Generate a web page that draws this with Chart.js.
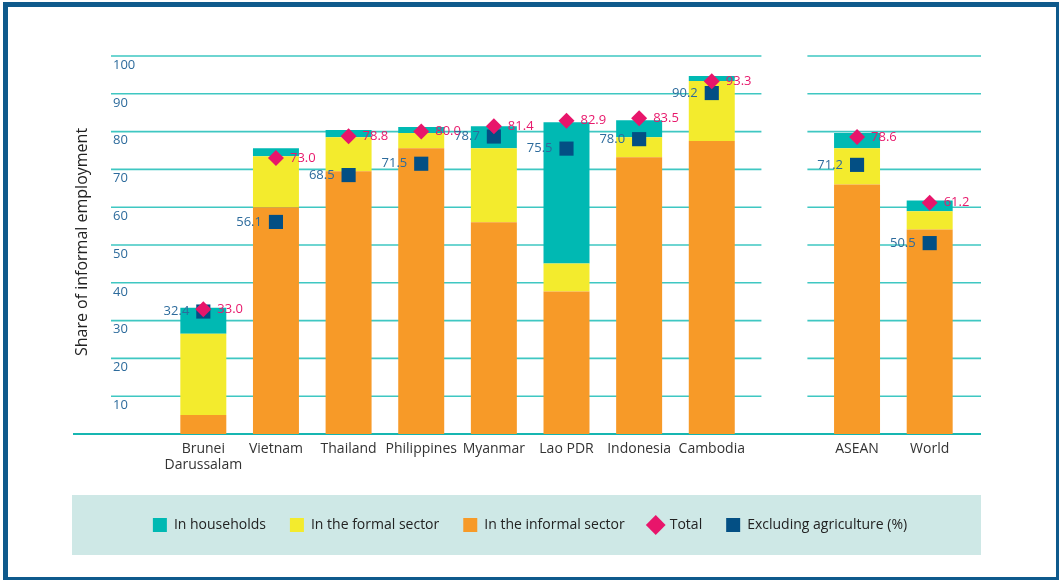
<!DOCTYPE html>
<html>
<head>
<meta charset="utf-8">
<script src="https://cdn.jsdelivr.net/npm/chart.js@4.4.1/dist/chart.umd.min.js"></script>
<style>
  html, body { margin: 0; padding: 0; background: #fff; }
  #wrap { position: relative; width: 1059px; height: 580px; overflow: hidden; }
  #frame { position: absolute; left: 3px; top: 2px; width: 1058px; height: 580px; box-sizing: border-box; border: 5px solid #0f5a8c; pointer-events: none; }
</style>
</head>
<body>
<div id="wrap">
  <canvas id="myChart" width="1059" height="580"></canvas>
  <div id="frame"></div>
</div>
<script>
// categories ('' is the spacer between the countries and the aggregates)
const countries = [['Brunei', 'Darussalam'], 'Vietnam', 'Thailand', 'Philippines', 'Myanmar', 'Lao PDR', 'Indonesia', 'Cambodia', '', 'ASEAN', 'World'];

// stacked components (share of employment, %)
const informalSector = [5.0, 60.0, 69.5, 75.6, 56.0, 37.7, 73.2, 77.5, null, 66.0, 54.1];
const formalSector   = [21.5, 13.5, 9.0, 4.0, 19.6, 7.4, 5.3, 15.9, null, 9.6, 4.8];
const households     = [6.9, 2.1, 1.9, 1.6, 5.8, 37.4, 4.5, 1.3, null, 4.0, 2.9];

// markers
const total        = [33.0, 73.0, 78.8, 80.0, 81.4, 82.9, 83.5, 93.3, null, 78.6, 61.2];
const excludingAgr = [32.4, 56.1, 68.5, 71.5, 78.7, 75.5, 78.0, 90.2, null, 71.2, 50.5];

const yTicks = [10, 20, 30, 40, 50, 60, 70, 80, 90, 100];
const yTitle = 'Share of informal employment';

const legendOrder = [2, 1, 0, 3, 4];
const spacerIndex = countries.indexOf('');

Chart.defaults.font.family = "'Open Sans', sans-serif";

const decor = {
    id: 'decor',
    beforeDraw(chart) {
        const {ctx, chartArea: a, legend} = chart;
        const cy = legend.top + legend.options.labels.padding + 7;
        ctx.save();
        ctx.fillStyle = '#cee8e6';
        ctx.fillRect(a.left - 95, cy - 30, (a.right + 15) - (a.left - 95), 60);
        ctx.restore();
    },
    beforeDatasetsDraw(chart) {
        const {ctx, chartArea: a, scales: {x, y}} = chart;
        const barW = chart.getDatasetMeta(0).data[0].width;
        const gapL = x.getPixelForValue(spacerIndex) - barW / 2;
        const gapR = x.getPixelForValue(spacerIndex) + barW / 2;
        const left = a.left - 56, right = a.right + 15;
        ctx.save();
        ctx.strokeStyle = '#3fc7c2';
        ctx.lineWidth = 1.6;
        yTicks.forEach(v => {
            const py = y.getPixelForValue(v);
            ctx.beginPath();
            ctx.moveTo(left, py); ctx.lineTo(gapL, py);
            ctx.moveTo(gapR, py); ctx.lineTo(right, py);
            ctx.stroke();
        });
        // baseline
        const y0 = y.getPixelForValue(0);
        ctx.strokeStyle = '#17b6b1';
        ctx.lineWidth = 2.2;
        ctx.beginPath();
        ctx.moveTo(a.left - 94, y0); ctx.lineTo(right, y0);
        ctx.stroke();
        // tick labels, sitting just under each grid line
        ctx.fillStyle = '#2d6b9c';
        ctx.font = "13px 'Open Sans', sans-serif";
        ctx.textAlign = 'left';
        ctx.textBaseline = 'middle';
        yTicks.forEach(v => {
            ctx.fillText(String(v), left + 2, y.getPixelForValue(v) + 9);
        });
        // axis title
        ctx.translate(82, (a.top + a.bottom) / 2 - 3);
        ctx.rotate(-Math.PI / 2);
        ctx.fillStyle = '#222';
        ctx.font = "16px 'Open Sans', sans-serif";
        ctx.textAlign = 'center';
        ctx.fillText(yTitle, 0, 0);
        ctx.restore();
    },
    afterDatasetsDraw(chart) {
        const {ctx} = chart;
        ctx.save();
        ctx.font = "13px 'Open Sans', sans-serif";
        ctx.textBaseline = 'middle';
        ctx.textAlign = 'left';
        ctx.fillStyle = '#e8196c';
        chart.getDatasetMeta(3).data.forEach((pt, i) => {
            if (total[i] == null) return;
            ctx.fillText(total[i].toFixed(1), pt.x + 14, pt.y);
        });
        ctx.textAlign = 'right';
        ctx.fillStyle = '#2d6b9c';
        chart.getDatasetMeta(4).data.forEach((pt, i) => {
            if (excludingAgr[i] == null) return;
            ctx.fillText(excludingAgr[i].toFixed(1), pt.x - 14, pt.y);
        });
        ctx.restore();
    }
};

const data = {
    labels: countries,
    datasets: [
        { type: 'bar', label: 'In the informal sector', data: informalSector, backgroundColor: '#f79a28', pointStyle: 'rect', stack: 'share', order: 2 },
        { type: 'bar', label: 'In the formal sector', data: formalSector, backgroundColor: '#f3eb2d', pointStyle: 'rect', stack: 'share', order: 2 },
        { type: 'bar', label: 'In households', data: households, backgroundColor: '#00b9b3', pointStyle: 'rect', stack: 'share', order: 2 },
        { type: 'line', label: 'Total', data: total, showLine: false, backgroundColor: '#e8156b', borderColor: '#e8156b', stack: 'total',
          pointStyle: 'rectRot', pointRadius: 8, pointHoverRadius: 8, pointBorderWidth: 0, borderWidth: 0, order: 0 },
        { type: 'line', label: 'Excluding agriculture (%)', data: excludingAgr, showLine: false, backgroundColor: '#034f84', borderColor: '#034f84', stack: 'excl',
          pointStyle: 'rect', pointRadius: 10, pointHoverRadius: 10, pointBorderWidth: 0, borderWidth: 0, order: 1 }
    ]
};

const config = {
    type: 'bar',
    data: data,
    options: {
        responsive: false,
        animation: false,
        layout: { padding: { left: 94, right: 93, top: 56, bottom: 38 } },
        datasets: { bar: { categoryPercentage: 1, barPercentage: 0.633 } },
        scales: {
            x: {
                stacked: true,
                grid: { display: false, drawTicks: false },
                border: { display: false },
                ticks: { autoSkip: false, maxRotation: 0, padding: 7, color: '#333',
                         font: { size: 14, lineHeight: 1.15 } },
                afterFit: (axis) => { axis.height = 60; }
            },
            y: {
                stacked: true,
                min: 0,
                max: 100,
                grid: { display: false, drawTicks: false },
                border: { display: false },
                ticks: { display: false },
                afterFit: (axis) => { axis.width = 73; }
            }
        },
        plugins: {
            tooltip: { enabled: false },
            legend: {
                position: 'bottom',
                labels: {
                    usePointStyle: true,
                    boxWidth: 14,
                    boxHeight: 14,
                    padding: 24,
                    color: '#222',
                    font: { size: 14 },
                    sort: (a, b) => legendOrder.indexOf(a.datasetIndex) - legendOrder.indexOf(b.datasetIndex)
                }
            }
        }
    },
    plugins: [decor]
};

const myChart = new Chart(document.getElementById('myChart'), config);
</script>
</body>
</html>
